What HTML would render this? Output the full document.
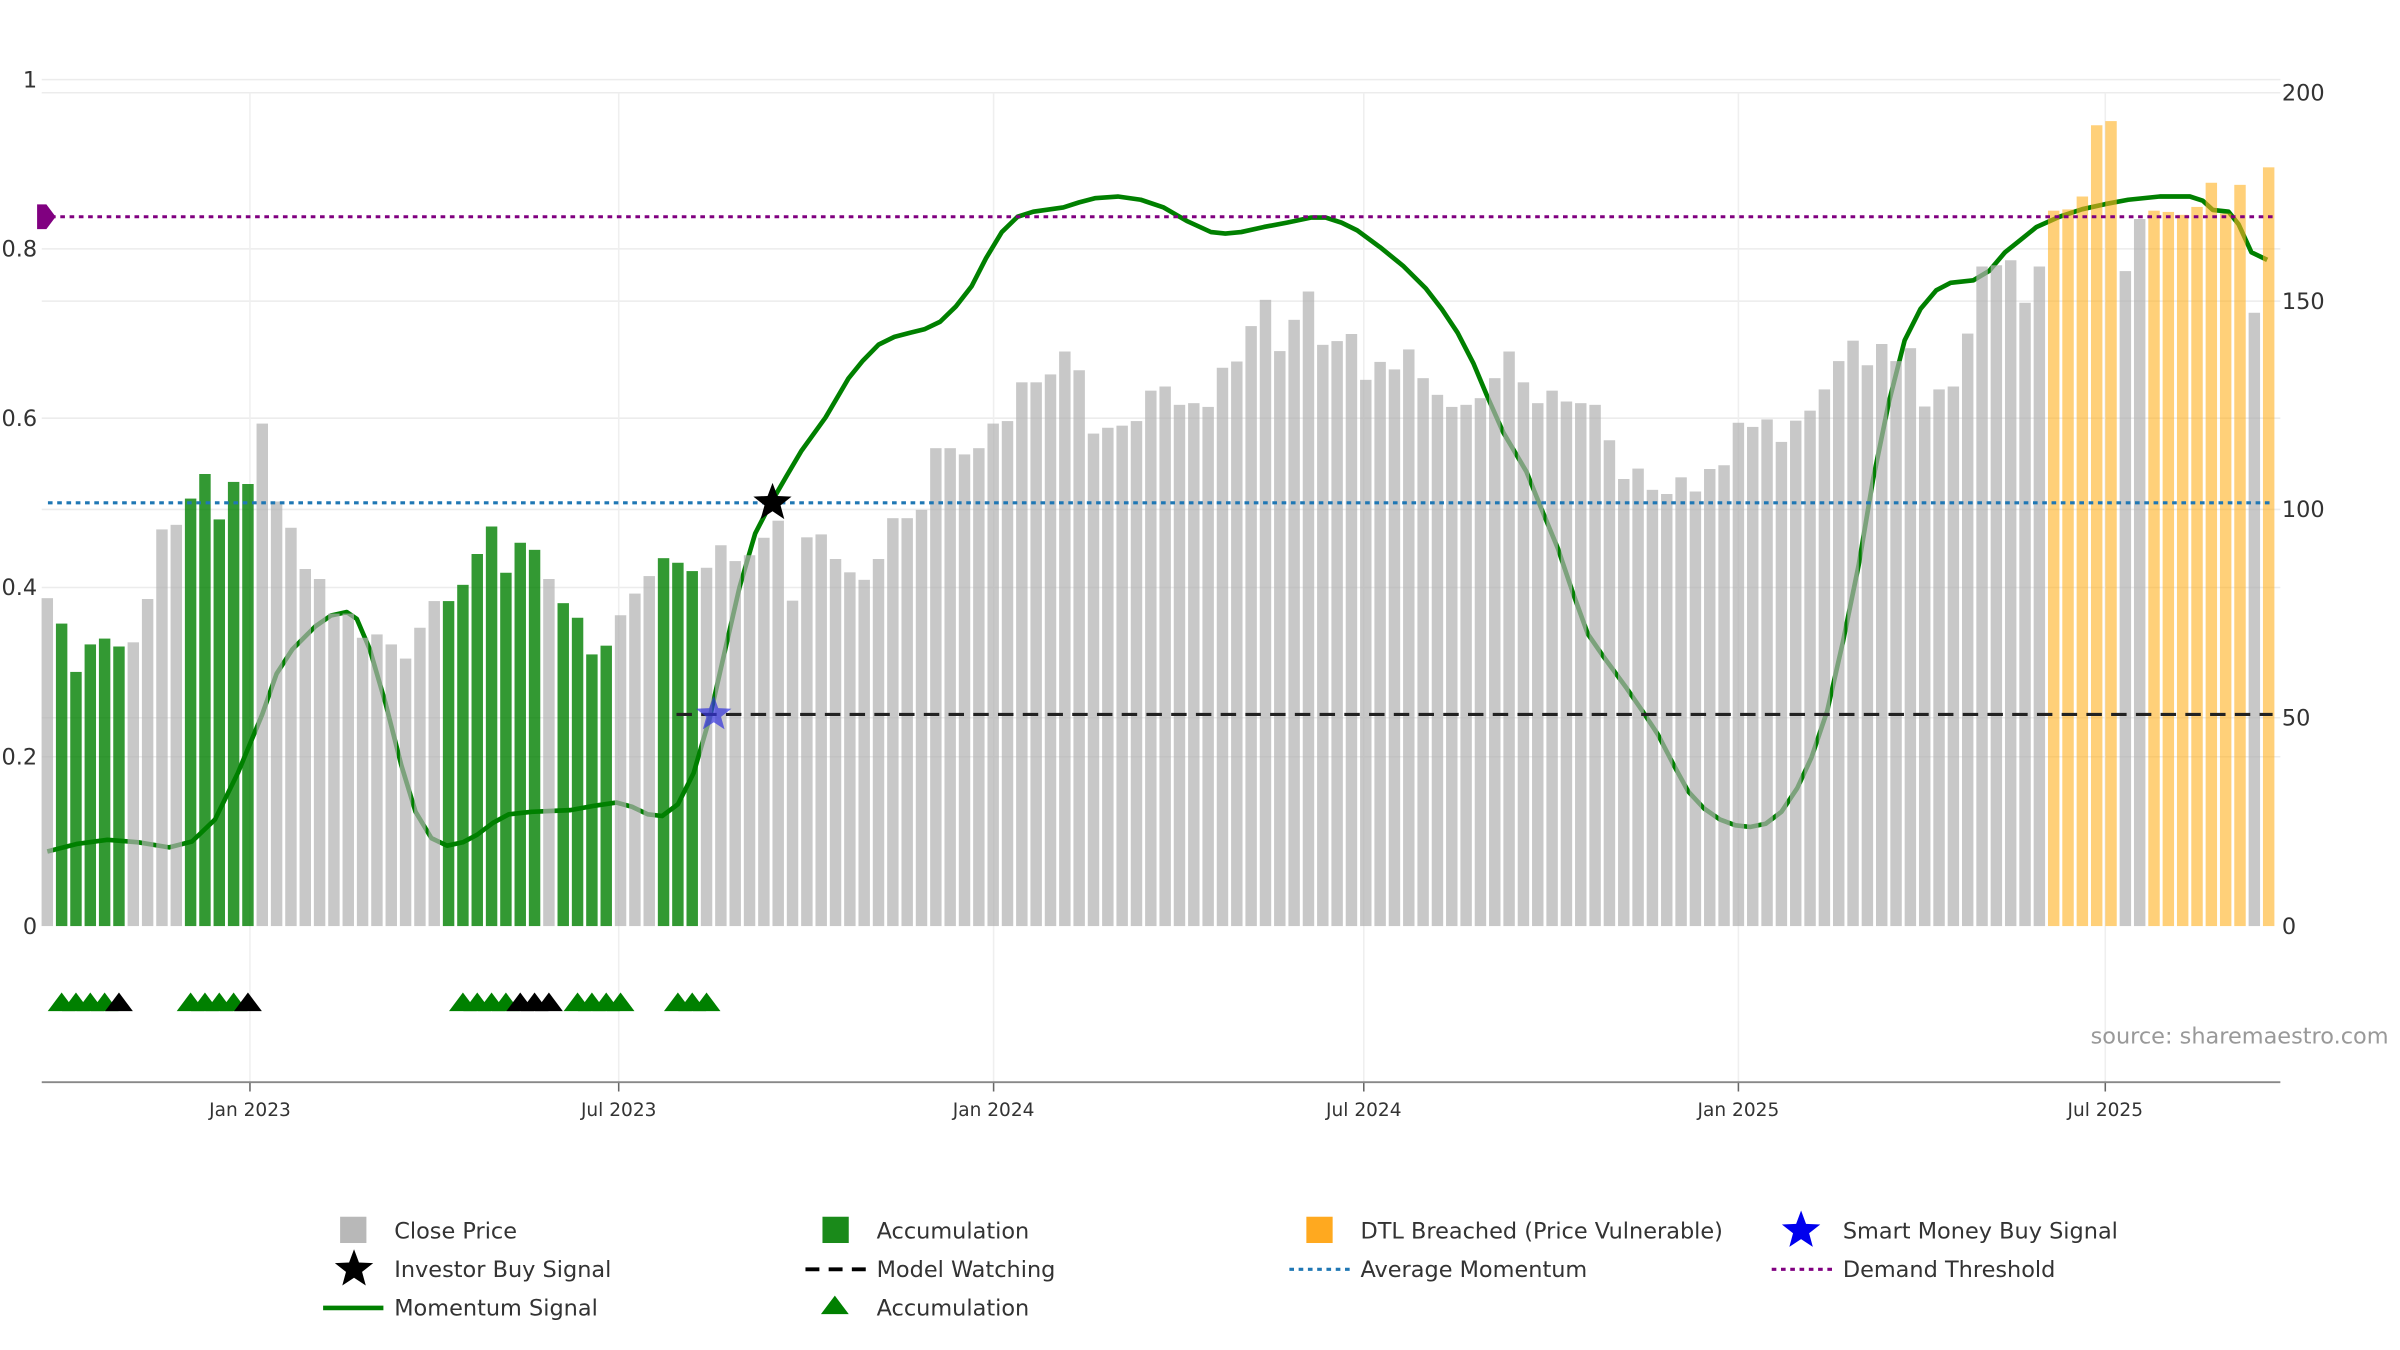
<!DOCTYPE html>
<html><head><meta charset="utf-8"><style>
html,body{margin:0;padding:0;background:#fff;}
svg{display:block;font-family:"DejaVu Sans","Liberation Sans",sans-serif;}
</style></head><body>
<svg id="chart" width="2400" height="1350" viewBox="0 0 1552.4 873.2" preserveAspectRatio="none" xmlns="http://www.w3.org/2000/svg">
<g id="grid"></g>
<g id="momentum"></g>
<g id="bars"></g>
<g id="refs"></g>
<g id="marks"></g>
<g id="axes"></g>
<text x="1545" y="675" text-anchor="end" font-size="14.5" fill="#999">source: sharemaestro.com</text>
<g id="legend"></g>
</svg>
<script>
const prices = [78.7,72.6,61,67.6,69,67.1,68.1,78.5,95.2,96.3,
102.6,108.5,97.6,106.6,106.1,120.6,101.9,95.6,85.7,83.3,
75,75,69.2,70,67.6,64.2,71.6,78,78,81.9,
89.3,95.9,84.8,92,90.3,83.3,77.5,74,65.2,67.3,
74.6,79.8,84,88.3,87.2,85.2,86,91.4,87.6,89,
93.2,97.3,
78.1,93.3,94.0,88.1,84.9,83.1,88.1,97.9,97.9,99.9,
114.7,114.7,113.2,114.7,120.6,121.2,130.5,130.5,132.4,137.9,
133.4,118.2,119.6,120.1,121.2,128.5,129.5,125.1,125.5,124.6,
134.0,135.5,144.0,150.3,138.0,145.5,152.3,139.5,140.4,142.1,
131.1,135.4,133.6,138.4,131.5,127.5,124.6,125.1,126.7,131.5,
137.9,130.5,125.5,128.5,125.9,125.5,125.1,116.6,107.3,109.8,104.7,
103.7,107.7,104.3,109.7,110.6,120.8,119.8,121.6,116.2,121.3,
123.7,128.8,135.6,140.5,134.6,139.7,135.6,138.7,124.7,128.8,
129.5,142.2,158.3,158.6,159.8,149.6,158.3,171.7,172,175.1,
192.2,193.2,157.2,169.7,171.7,171.4,170.7,172.6,178.4,171,
177.9,147.2,182.1];
const accumWeeks = [1,2,3,4,5,10,11,12,13,14,28,29,30,31,32,33,34,36,37,38,39,43,44,45];
const dtlWeeks = [140,141,142,143,144,147,148,149,150,151,152,153,155];
const momWeeks = [0,2.05,4.2,6.35,8.5,10.1,11.7,13.3,15.0,16.0,17.1,18.7,19.8,20.9,21.6,22.5,23.6,24.7,25.7,26.8,27.9,29.0,30.0,31.1,32.2,33.8,36.5,38.1,39.7,40.8,41.9,42.9,44.0,45.1,46.2,47.3,48.3,49.4,50.5,51.6,52.6,54.3,55.9,56.9,58.0,59.1,60.2,61.2,62.3,63.4,64.5,65.5,66.6,67.7,68.8,70.9,72.0,73.1,74.7,76.3,77.9,79.5,81.2,82.2,83.3,84.9,86.5,88.2,89.2,90.3,91.4,93.0,94.6,96.2,97.3,98.4,99.5,100.5,101.6,103.2,104.3,105.4,106.5,107.5,108.6,110.2,111.3,112.4,113.5,114.5,115.6,116.7,117.8,118.8,119.9,121.0,122.1,123.1,124.2,125.3,126.4,127.4,128.5,129.6,130.7,131.8,132.8,134.4,135.5,136.6,137.7,138.8,140.4,142.0,143.6,145.2,147.4,149.5,150.4,151.1,152.2,152.9,153.8,154.9];
const momValues = [0.088,0.097,0.102,0.099,0.093,0.100,0.126,0.181,0.250,0.298,0.327,0.354,0.367,0.371,0.363,0.327,0.263,0.190,0.135,0.104,0.095,0.099,0.108,0.122,0.132,0.135,0.137,0.142,0.146,0.141,0.132,0.130,0.144,0.181,0.245,0.327,0.400,0.464,0.500,0.532,0.561,0.601,0.647,0.668,0.687,0.696,0.701,0.705,0.714,0.732,0.756,0.789,0.820,0.838,0.844,0.849,0.855,0.860,0.862,0.858,0.849,0.833,0.820,0.818,0.820,0.826,0.831,0.837,0.837,0.831,0.822,0.802,0.780,0.753,0.729,0.701,0.665,0.625,0.583,0.537,0.491,0.446,0.391,0.345,0.318,0.281,0.254,0.226,0.190,0.159,0.139,0.126,0.119,0.117,0.121,0.135,0.163,0.199,0.254,0.336,0.427,0.528,0.619,0.692,0.729,0.751,0.760,0.763,0.774,0.796,0.811,0.826,0.838,0.847,0.853,0.858,0.862,0.862,0.857,0.846,0.844,0.829,0.796,0.787];
const triGreen = [1,2,3,4,10,11,12,13,29,30,31,32,37,38,39,40,44,45,46];
const triBlack = [5,14,33,34,35];
const leftTicks = [0,0.2,0.4,0.6,0.8,1];
const leftTickLabels = ["0","0.2","0.4","0.6","0.8","1"];
const rightTicks = [0,50,100,150,200];
const xTickWeeks = [14.14,39.87,66.03,91.86,118.0,143.6];
const xTickLabels = ["Jan 2023","Jul 2023","Jan 2024","Jul 2024","Jan 2025","Jul 2025"];
const demandThreshold = 0.838;
const avgMomentum = 0.5;
const modelWatching = 0.25;
const modelWatchStart = 43.9;
const investorBuy = [50.6, 0.5];
const smartMoneyBuy = [46.5, 0.25];

const NS="http://www.w3.org/2000/svg";
const X0=30.6, DX=9.27, PL=27, PR=1475, Y0=599;
const xS = w => X0 + w*DX;
const yL = v => Y0 - v*547.5;
const yR = p => Y0 - p*2.695;
function el(tag, attrs, parent){const e=document.createElementNS(NS,tag);for(const k in attrs)e.setAttribute(k,attrs[k]);parent.appendChild(e);return e;}
const G=id=>document.getElementById(id);

leftTicks.forEach((t,i)=>{
  if(t>0){const l=el('line',{x1:PL,x2:PR,y1:yL(t),y2:yL(t),stroke:'#ececec','stroke-width':1},G('grid'));
  
  }
  const tx=el('text',{x:24,y:yL(t)+5,'text-anchor':'end','font-size':14.5,fill:'#333'},G('axes'));
  tx.textContent=leftTickLabels[i];
  
  
});
rightTicks.forEach(t=>{
  if(t>0){const l=el('line',{x1:PL,x2:PR,y1:yR(t),y2:yR(t),stroke:'#ececec','stroke-width':1},G('grid'));
  
  }
  const tx=el('text',{x:1476,y:yR(t)+5,'font-size':14.5,fill:'#333'},G('axes'));
  tx.textContent=String(t);
  
  
});
xTickWeeks.forEach((w,i)=>{
  const x=xS(w);
  const l=el('line',{x1:x,x2:x,y1:60,y2:700,stroke:'#efefef','stroke-width':1},G('grid'));
  
  
  const tk=el('line',{x1:x,x2:x,y1:700,y2:706,stroke:'#666','stroke-width':1},G('axes'));
  
  
  const tx=el('text',{x:x,y:722,'text-anchor':'middle','font-size':12,fill:'#333'},G('axes'));
  tx.textContent=xTickLabels[i];
  
  
});
const ax=el('line',{x1:PL,x2:PR,y1:700,y2:700,stroke:'#888','stroke-width':1.2},G('axes'));



let d='';momWeeks.forEach((w,i)=>{d+=(i?'L':'M')+xS(w).toFixed(1)+','+yL(momValues[i]).toFixed(1);});
const mp=el('path',{d:d,fill:'none',stroke:'#008000','stroke-width':3,'stroke-linejoin':'round'},G('momentum'));



prices.forEach((p,i)=>{
  let fill='#b0b0b0',op=0.7,name='close-price-bar';
  if(accumWeeks.includes(i)){fill='#008000';op=0.8;name='accumulation-bar';}
  if(dtlWeeks.includes(i)){fill='#ffb020';op=0.6;name='dtl-breached-bar';}
  const r=el('rect',{x:xS(i)-3.7,y:yR(p),width:7.4,height:Y0-yR(p),fill:fill,'fill-opacity':op},G('bars'));
  
  
});

const dl=el('line',{x1:PL,x2:1470,y1:yL(demandThreshold),y2:yL(demandThreshold),stroke:'#800080','stroke-width':2,'stroke-dasharray':'3 3'},G('refs'));


const dd=el('path',{d:`M${PL-3},${yL(demandThreshold)-8} L${PL+3},${yL(demandThreshold)-8} L${PL+9},${yL(demandThreshold)} L${PL+3},${yL(demandThreshold)+8} L${PL-3},${yL(demandThreshold)+8} Z`,fill:'#800080'},G('refs'));


const al=el('line',{x1:PL+4,x2:1470,y1:yL(avgMomentum),y2:yL(avgMomentum),stroke:'#1f77b4','stroke-width':2,'stroke-dasharray':'3 3'},G('refs'));


const ml=el('line',{x1:xS(modelWatchStart),x2:1470,y1:yL(modelWatching),y2:yL(modelWatching),stroke:'#222','stroke-width':2,'stroke-dasharray':'10 6'},G('refs'));



function starPath(cx,cy,R){const r=R*0.42;let s='';for(let k=0;k<10;k++){const a=-Math.PI/2+k*Math.PI/5;const rr=k%2?r:R;s+=(k?'L':'M')+(cx+rr*Math.cos(a)).toFixed(1)+','+(cy+rr*Math.sin(a)).toFixed(1);}return s+'Z';}
const bs=el('path',{d:starPath(xS(smartMoneyBuy[0]),yL(smartMoneyBuy[1]),12),fill:'#3333dd','fill-opacity':0.7},G('marks'));


const ks=el('path',{d:starPath(xS(investorBuy[0]),yL(investorBuy[1]),13),fill:'#000'},G('marks'));



function tri(w,color,name){const x=xS(w),y=648;const t=el('path',{d:`M${x-9},${y+6}L${x},${y-6}L${x+9},${y+6}Z`,fill:color},G('marks'));

}
triGreen.forEach(w=>tri(w,'#008000','accumulation-triangle'));
triBlack.forEach(w=>tri(w,'#000','signal-triangle'));

const L=G('legend');
function legText(x,y,s,name){const t=el('text',{x:x,y:y+5,'font-size':14.5,fill:'#333'},L);t.textContent=s;

}
let e;
e=el('rect',{x:220,y:787,width:17,height:17,fill:'#b8b8b8'},L);


legText(255,796,'Close Price','legend-close-price');
e=el('path',{d:starPath(229,821,13),fill:'#000'},L);


legText(255,821,'Investor Buy Signal','legend-investor-buy');
e=el('line',{x1:209,x2:248,y1:846,y2:846,stroke:'#008000','stroke-width':3},L);


legText(255,846,'Momentum Signal','legend-momentum');
e=el('rect',{x:532,y:787,width:17,height:17,fill:'#1a8a1a'},L);


legText(567,796,'Accumulation','legend-accumulation');
e=el('line',{x1:521,x2:560,y1:821,y2:821,stroke:'#000','stroke-width':2.5,'stroke-dasharray':'9 6'},L);


legText(567,821,'Model Watching','legend-model-watching');
e=el('path',{d:'M531,850L540,838L549,850Z',fill:'#008000'},L);


legText(567,846,'Accumulation','legend-accumulation-triangle-label');
e=el('rect',{x:845,y:787,width:17,height:17,fill:'#ffa91f'},L);


legText(880,796,'DTL Breached (Price Vulnerable)','legend-dtl-breached');
e=el('line',{x1:834,x2:873,y1:821,y2:821,stroke:'#1f77b4','stroke-width':2,'stroke-dasharray':'3 3'},L);


legText(880,821,'Average Momentum','legend-average-momentum');
e=el('path',{d:starPath(1165,796,13),fill:'#0000ee'},L);


legText(1192,796,'Smart Money Buy Signal','legend-smart-money-buy');
e=el('line',{x1:1146,x2:1185,y1:821,y2:821,stroke:'#800080','stroke-width':2,'stroke-dasharray':'3 3'},L);


legText(1192,821,'Demand Threshold','legend-demand-threshold');
</script>
</body></html>
